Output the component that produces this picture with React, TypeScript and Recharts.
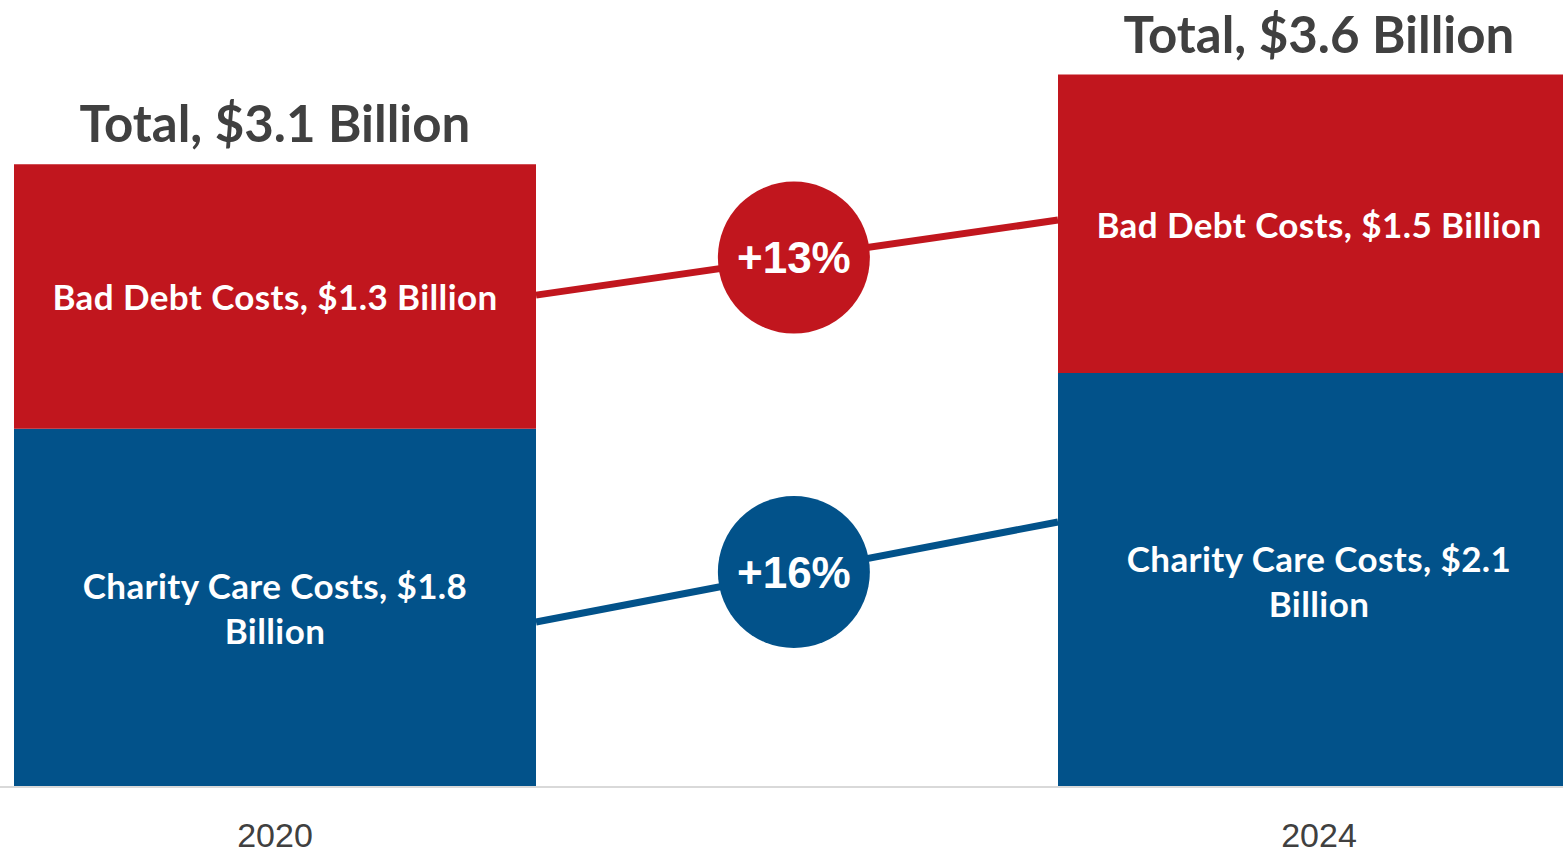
import React from 'react';
import { ComposedChart, Bar, Line, XAxis, YAxis, LabelList, ReferenceDot } from 'recharts';

const years = ['2020', '2024'];
const charityCare = [1.8, 2.08];
const badDebt = [1.33, 1.5];
const charityLabels = [['Charity Care Costs, $1.8', 'Billion'], ['Charity Care Costs, $2.1', 'Billion']];
const badDebtLabels = [['Bad Debt Costs, $1.3 Billion'], ['Bad Debt Costs, $1.5 Billion']];
const totalLabels = ['Total, $3.1 Billion', 'Total, $3.6 Billion'];
const connectorX = [0.75, 1.25];
const badDebtConnector = [2.472, 2.849];
const charityConnector = [0.829, 1.332];
const changeLabels = ['+13%', '+16%'];
const changeBadgeX = 0.997;

const RED = '#C1161E';
const BLUE = '#02528A';
const GRAY = '#404040';
const LABEL_FONT = 'Lato, "Open Sans", sans-serif';
const ARIAL = '"Liberation Sans", Arial, sans-serif';

const data = years.map((year, i) => ({
  year,
  charity: charityCare[i],
  badDebt: badDebt[i],
  idx: i,
}));

const redLine = connectorX.map((x, i) => ({ x, v: badDebtConnector[i] }));
const blueLine = connectorX.map((x, i) => ({ x, v: charityConnector[i] }));
const redMid = (badDebtConnector[0] + badDebtConnector[1]) / 2;
const blueMid = (charityConnector[0] + charityConnector[1]) / 2;

const makeInside = (labels: string[][]) => (props: any) => {
  const { x, y, width, height, index } = props;
  const lines = labels[index] || [];
  const cx = Number(x) + Number(width) / 2;
  const cy = Number(y) + Number(height) / 2;
  const lh = 45;
  const first = cy - ((lines.length - 1) * lh) / 2 + 14;
  return (
    <text textAnchor="middle" fill="#fff" fontFamily={LABEL_FONT} fontWeight={700} fontSize={35} letterSpacing={0.4}>
      {lines.map((l, k) => (
        <tspan key={k} x={cx} y={first + k * lh}>{l}</tspan>
      ))}
    </text>
  );
};

const totalContent = (props: any) => {
  const { x, y, width, index } = props;
  return (
    <text
      x={Number(x) + Number(width) / 2}
      y={Number(y) - 22}
      textAnchor="middle"
      fill={GRAY}
      fontFamily={LABEL_FONT}
      fontWeight={700}
      fontSize={51}
    >
      {totalLabels[index]}
    </text>
  );
};

const Tick = (props: any) => {
  const { x, y, payload } = props;
  return (
    <text x={x} y={Number(y) + 60} textAnchor="middle" fill={GRAY} fontFamily={ARIAL} fontSize={34}>
      {payload.value}
    </text>
  );
};

export default function App() {
  return (
    <div style={{ position: 'absolute', left: 0, top: 0, width: 1563, height: 852, overflow: 'hidden', background: '#fff' }}>
      <div style={{ position: 'absolute', left: -247, top: 0 }}>
        <ComposedChart
          width={2088}
          height={852}
          data={data}
          margin={{ top: 0, right: 0, bottom: 0, left: 0 }}
          barCategoryGap="25%"
        >
          <XAxis
            dataKey="year"
            height={65}
            tickLine={false}
            tickSize={0}
            tickMargin={0}
            axisLine={{ stroke: '#D9D9D9', strokeWidth: 2 }}
            tick={<Tick />}
            interval={0}
          />
          <XAxis xAxisId="num" dataKey="x" type="number" domain={[0, 2]} hide allowDataOverflow />
          <YAxis hide domain={[0, 3.955]} type="number" allowDataOverflow />
          <Bar dataKey="charity" stackId="a" fill={BLUE} isAnimationActive={false}>
            <LabelList dataKey="charity" content={makeInside(charityLabels)} />
          </Bar>
          <Bar dataKey="badDebt" stackId="a" fill={RED} isAnimationActive={false}>
            <LabelList dataKey="badDebt" content={makeInside(badDebtLabels)} />
            <LabelList dataKey="badDebt" content={totalContent} />
          </Bar>
          <Line
            xAxisId="num"
            data={redLine}
            dataKey="v"
            stroke={RED}
            strokeWidth={7}
            dot={false}
            activeDot={false}
            isAnimationActive={false}
          />
          <Line
            xAxisId="num"
            data={blueLine}
            dataKey="v"
            stroke={BLUE}
            strokeWidth={7}
            dot={false}
            activeDot={false}
            isAnimationActive={false}
          />
          <ReferenceDot
            xAxisId="num"
            x={changeBadgeX}
            y={redMid}
            r={76}
            fill={RED}
            stroke="none"
            label={{ value: changeLabels[0], position: 'center', fill: '#fff', fontSize: 44, fontWeight: 700, fontFamily: ARIAL }}
          />
          <ReferenceDot
            xAxisId="num"
            x={changeBadgeX}
            y={blueMid}
            r={76}
            fill={BLUE}
            stroke="none"
            label={{ value: changeLabels[1], position: 'center', fill: '#fff', fontSize: 44, fontWeight: 700, fontFamily: ARIAL }}
          />
        </ComposedChart>
      </div>
    </div>
  );
}
